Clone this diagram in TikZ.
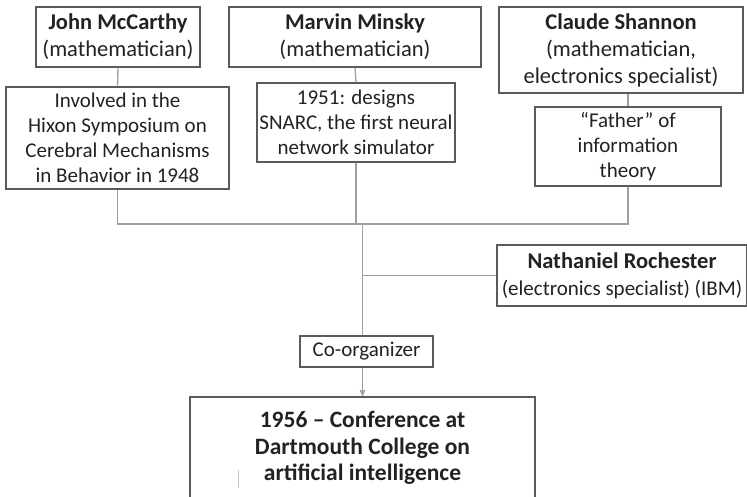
\documentclass[tikz,border=0pt]{standalone}
\usepackage{fontspec}
\setmainfont{Carlito}
\usetikzlibrary{arrows}

\definecolor{boxline}{HTML}{5A5A5A}
\definecolor{linkline}{HTML}{A0A0A0}
\definecolor{ink}{HTML}{222222}

\begin{document}
\begin{tikzpicture}[x=1pt,y=-1pt,
  box/.style={draw=boxline,line width=1.3pt,fill=white,align=center,inner sep=0pt,
    text=ink,font=\fontsize{22.5}{27}\selectfont},
  fact/.style={box,font=\fontsize{21}{25}\selectfont},
  link/.style={draw=linkline,line width=1.3pt}]
\useasboundingbox (0,0) rectangle (747,497);

% people
\node[box,minimum width=164pt,minimum height=60pt] (mccarthy) at (118,37)
  {\textbf{John McCarthy}\\(mathematician)};
\node[box,minimum width=252pt,minimum height=60pt] (minsky) at (355,37)
  {\textbf{Marvin Minsky}\\(mathematician)};
\node[box,minimum width=244pt,minimum height=86pt] (shannon) at (621,50)
  {\textbf{Claude Shannon}\\(mathematician,\\electronics specialist)};
\node[box,minimum width=250pt,minimum height=61pt,font=\fontsize{21}{27}\selectfont] (rochester) at (622,275.5)
  {\textbf{\fontsize{22.5}{27}\selectfont Nathaniel Rochester}\\(electronics specialist) (IBM)};

% facts
\node[fact,minimum width=223pt,minimum height=102pt] (hixon) at (117.5,138)
  {Involved in the\\Hixon Symposium on\\Cerebral Mechanisms\\in Behavior in 1948};
\node[fact,minimum width=198pt,minimum height=79pt] (snarc) at (356,122.5)
  {1951: designs\\SNARC, the first neural\\network simulator};
\node[fact,minimum width=186pt,minimum height=79pt] (father) at (628,146.5)
  {``Father'' of\\information\\theory};

\coordinate (join) at (362.5,224);

\draw[link] (mccarthy.south) -- (hixon.north);
\draw[link] (minsky.south) -- (snarc.north);
\draw[link] (father.north |- shannon.south) -- (father.north);
\draw[link] (hixon.south) |- (join);
\draw[link] (father.south) |- (join);
\draw[link] (snarc.south) |- (join);

% conference
\node[box,minimum width=345pt,minimum height=102pt,font=\fontsize{23.5}{26.5}\selectfont\bfseries] (dartmouth) at (362.5,448)
  {1956 -- Conference at\\Dartmouth College on\\artificial intelligence};
\draw[link,->,>=stealth'] (join) -- (dartmouth.north);
\draw[link] (rochester.west) -- (join |- rochester.west);
\node[box,minimum width=133pt,minimum height=31pt,font=\fontsize{21}{24}\selectfont] (coorg) at (366.5,351.5) {Co-organizer};

\draw[linkline!60,line width=1pt] (238,470) -- (238,488);
\end{tikzpicture}
\end{document}
